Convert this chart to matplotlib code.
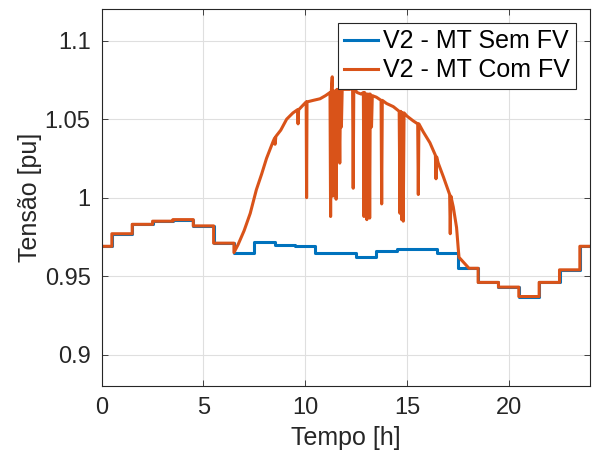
import matplotlib
matplotlib.use("Agg")
import matplotlib.pyplot as plt

# -----------------------------
# Data
# -----------------------------
horas = list(range(25))
v_sem_fv = [0.969, 0.977, 0.983, 0.985, 0.986, 0.982, 0.971, 0.965, 0.972,
            0.970, 0.969, 0.965, 0.965, 0.962, 0.966, 0.967, 0.967, 0.965,
            0.955, 0.946, 0.943, 0.937, 0.946, 0.954, 0.969]

# with PV: daytime section (6.5 h .. 18.5 h), read point by point
t_com_fv = [6.50, 6.70, 7.00, 7.30, 7.60, 7.86, 8.10, 8.43, 8.50, 8.52, 8.56,
            8.80, 9.09, 9.40, 9.62, 9.65, 9.68, 9.90, 10.05, 10.07, 10.09,
            10.40, 10.73, 11.00, 11.22, 11.25, 11.28, 11.33, 11.36, 11.40,
            11.44, 11.48, 11.52, 11.56, 11.60, 11.65, 11.70, 11.74, 11.78,
            11.82, 12.00, 12.20, 12.33, 12.36, 12.39, 12.55, 12.75, 12.86,
            12.89, 12.92, 12.96, 13.00, 13.03, 13.06, 13.10, 13.14, 13.17,
            13.20, 13.26, 13.30, 13.50, 13.73, 13.76, 13.79, 14.00, 14.33,
            14.62, 14.66, 14.70, 14.74, 14.78, 14.82, 14.86, 15.00, 15.30,
            15.53, 15.56, 15.59, 15.80, 16.13, 16.40, 16.43, 16.46, 16.54,
            16.80, 17.10, 17.13, 17.16, 17.28, 17.44, 17.52, 17.56, 18.05,
            18.50]
v_com_fv = [0.965, 0.970, 0.979, 0.990, 1.005, 1.015, 1.025, 1.036, 1.038, 1.034, 1.039,
            1.043, 1.050, 1.054, 1.056, 1.047, 1.056, 1.059, 1.061, 1.000, 1.061,
            1.062, 1.063, 1.065, 1.067, 0.988, 1.067, 1.077, 1.001, 1.068,
            1.032, 1.068, 0.999, 1.069, 1.040, 1.069, 1.022, 1.069, 1.045,
            1.069, 1.069, 1.069, 1.071, 1.006, 1.070, 1.067, 1.066, 1.067,
            0.988, 1.067, 1.040, 1.066, 0.986, 1.066, 1.002, 1.066, 0.987,
            1.066, 1.045, 1.065, 1.064, 1.062, 0.996, 1.062, 1.060, 1.058,
            1.055, 0.990, 1.055, 0.986, 1.054, 0.985, 1.054, 1.052, 1.049,
            1.047, 1.002, 1.047, 1.042, 1.035, 1.027, 1.012, 1.026, 1.022,
            1.013, 1.002, 0.977, 1.001, 0.994, 0.981, 0.968, 0.962, 0.955,
            0.955]

y_ticks = [0.9, 0.95, 1.0, 1.05, 1.1]
y_tick_labels = ["0.9", "0.95", "1", "1.05", "1.1"]
x_ticks = [0, 5, 10, 15, 20]


def stair_xy(h, v, x_from, x_to):
    # vertices of a step curve that changes value at the half hours
    xs, ys = [], []
    for k in range(len(h)):
        a = max(h[k] - 0.5, x_from)
        b = min(h[k] + 0.5, x_to)
        if a < b:
            xs += [a, b]
            ys += [v[k], v[k]]
    return xs, ys


left_x, left_y = stair_xy(horas, v_sem_fv, 0, 6.5)
right_x, right_y = stair_xy(horas, v_sem_fv, 18.5, 24)
orange_x = left_x + t_com_fv + right_x
orange_y = left_y + v_com_fv + right_y

# -----------------------------
# Plot
# -----------------------------
plt.rcParams['font.family'] = ['Liberation Sans', 'DejaVu Sans']

fig = plt.figure(figsize=(5.93, 4.54), dpi=100)
ax = fig.add_axes([0.1715, 0.1498, 0.8235, 0.8297])

ax.step(horas, v_sem_fv, where='mid', color='#0072BD', lw=2.2,
        label='V2 - MT Sem FV')
ax.plot(orange_x, orange_y, color='#D95319', lw=2.2, label='V2 - MT Com FV')

ax.set_xlim(0, 24)
ax.set_ylim(0.88, 1.12)
ax.set_xticks(x_ticks)
ax.set_yticks(y_ticks)
ax.set_yticklabels(y_tick_labels)
ax.tick_params(direction='in', top=True, right=True, labelsize=17,
               colors='#262626', length=4, width=0.6, pad=8)
ax.grid(True, color='#DFDFDF', lw=0.8)
for s in ax.spines.values():
    s.set_color('#262626')
    s.set_linewidth(0.8)

ax.set_xlabel('Tempo [h]', fontsize=18, color='#262626', labelpad=5)
ax.set_ylabel('Tensão [pu]', fontsize=18, color='#262626', labelpad=2)

leg = ax.legend(loc='upper right', fontsize=18, frameon=True, fancybox=False,
                framealpha=1, edgecolor='#262626', borderaxespad=0.55,
                handlelength=1.35, handletextpad=0.2, labelspacing=0.2,
                borderpad=0.25)
leg.get_frame().set_linewidth(0.8)

fig.savefig('out.png', dpi=100)
